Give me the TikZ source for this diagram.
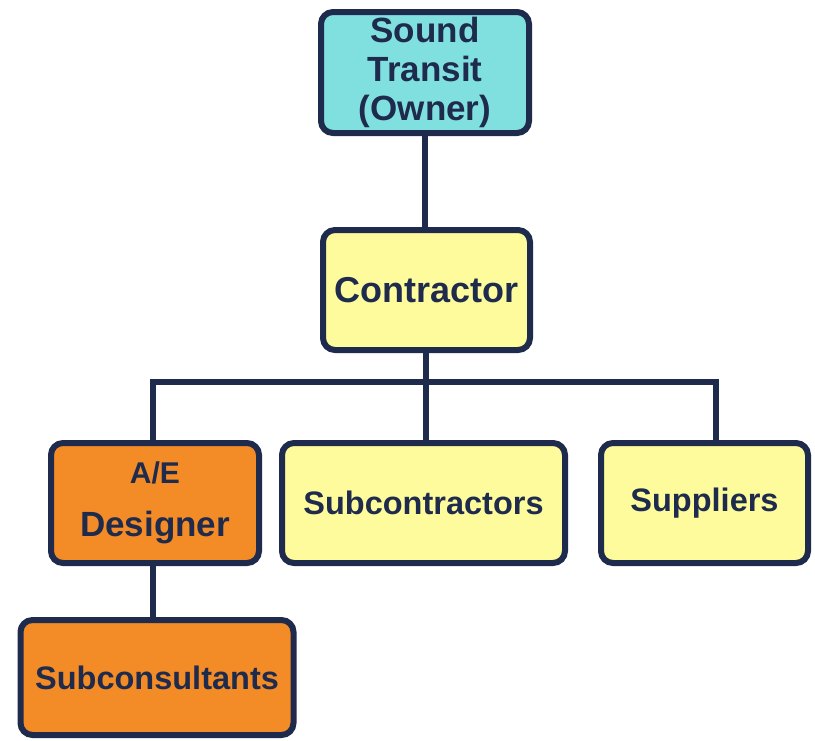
\documentclass[tikz,border=0pt]{standalone}
\usepackage{fontspec}
\setmainfont{Liberation Sans}
\usetikzlibrary{backgrounds}
\definecolor{navy}{HTML}{1F2B4C}
\definecolor{cyanfill}{HTML}{80E0E0}
\definecolor{yelfill}{HTML}{FEFB9C}
\definecolor{orgfill}{HTML}{F38B27}
\begin{document}
\begin{tikzpicture}[x=1pt,y=-1pt,
  box/.style={draw=navy, line width=6pt, rounded corners=12pt, align=center,
    text=navy, font=\bfseries\fontsize{32.5}{39}\selectfont, inner sep=0pt},
  conn/.style={draw=navy, line width=6pt}]
\useasboundingbox (0,0) rectangle (815,740);
\node[box, fill=cyanfill, minimum width=208pt, minimum height=121pt,
  font=\bfseries\fontsize{35}{39}\selectfont] (owner) at (425,72.5) {Sound\\Transit\\(Owner)};
\node[box, fill=yelfill, minimum width=207pt, minimum height=120pt,
  font=\bfseries\fontsize{36}{39}\selectfont] (contractor) at (426.5,290) {Contractor};
\node[box, fill=orgfill, minimum width=208pt, minimum height=120pt] (ae) at (155,503)
  {\fontsize{30}{30}\selectfont A/E\\[14pt]\fontsize{35}{39}\selectfont Designer};
\node[box, fill=yelfill, minimum width=283pt, minimum height=120pt] (sub) at (423.5,503) {Subcontractors};
\node[box, fill=yelfill, minimum width=207pt, minimum height=120pt] (sup) at (704.5,503) {Suppliers};
\node[box, fill=orgfill, minimum width=273pt, minimum height=115pt] (subc) at (157,677.5) {Subconsultants};
\coordinate (bl) at (153,382);
\coordinate (bm) at (426,382);
\coordinate (br) at (716,382);
\begin{scope}[on background layer]
\draw[conn] (owner.south -| 425,0) -- (contractor.north -| 425,0);
\draw[conn] (contractor.south -| bm) -- (bm);
\draw[conn] (ae.north -| bl) -- (bl) -- (br) -- (sup.north -| br);
\draw[conn] (bm) -- (sub.north -| bm);
\draw[conn] (ae.south -| bl) -- (subc.north -| bl);
\end{scope}
\end{tikzpicture}
\end{document}
